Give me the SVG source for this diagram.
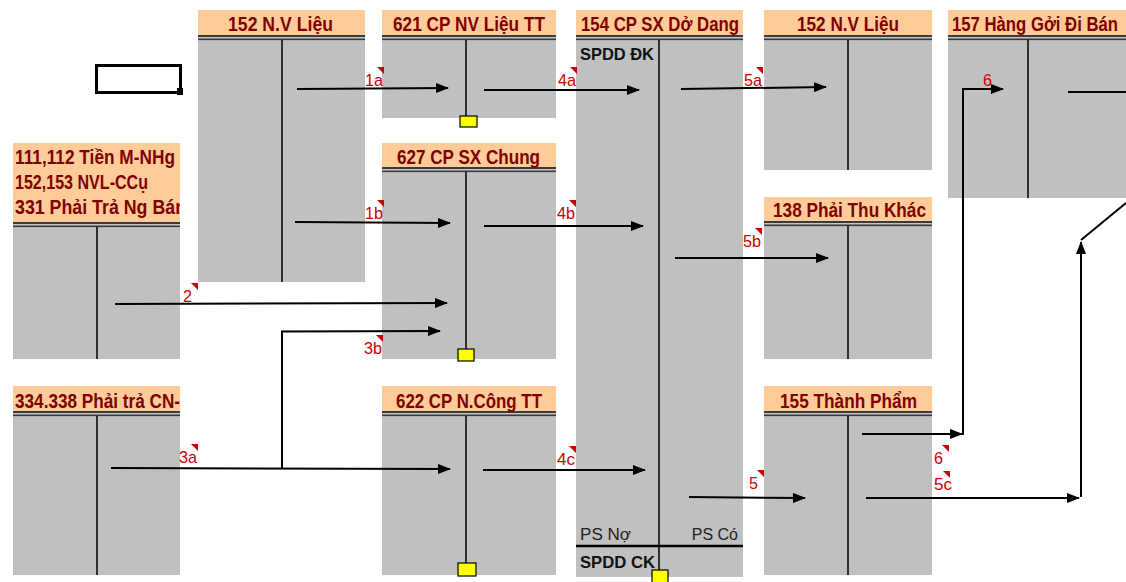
<svg xmlns="http://www.w3.org/2000/svg" width="1126" height="582" viewBox="0 0 1126 582">
<style>
.hdr{fill:#FFCC99}
.bd{fill:#C0C0C0}
.ht{font-family:"Liberation Sans",Arial,sans-serif;font-weight:bold;font-size:19.5px;fill:#800000}
.dv{stroke:#000;stroke-width:1.5}
.d1{stroke:#3a3a3a;stroke-width:2}
.d2{stroke:#8a8a8a;stroke-width:1}
.lbl{font-family:"Liberation Sans",Arial,sans-serif;font-size:17px;fill:#cc0000}
.tri{fill:#cc0000}
.cn{stroke:#000;stroke-width:2;fill:none}
.yb{fill:#FFFF00;stroke:#000;stroke-width:1.2}
.bt{font-family:"Liberation Sans",Arial,sans-serif;font-weight:bold;font-size:17px;fill:#111}
.nt{font-family:"Liberation Sans",Arial,sans-serif;font-size:16px;fill:#222}
</style>
<defs>
<marker id="ah" viewBox="0 0 13 10" refX="12" refY="5" markerWidth="13" markerHeight="10" markerUnits="userSpaceOnUse" orient="auto">
<path d="M0,0 L13,5 L0,10 z" fill="#000"/>
</marker>
<clipPath id="clipL"><rect x="13" y="0" width="167" height="582"/></clipPath>
</defs>
<rect width="1126" height="582" fill="#fff"/>

<g id="selbox">
<rect x="96.5" y="65.5" width="84" height="27" fill="none" stroke="#000" stroke-width="3"/>
<rect x="177" y="88" width="6" height="7" fill="#000"/>
</g>

<g id="n152a">
<rect class="hdr" x="198" y="10" width="167" height="26"/>
<line class="d1" x1="198" y1="36" x2="365" y2="36"/><line class="d2" x1="198" y1="38" x2="365" y2="38"/><line class="d1" x1="198" y1="39.5" x2="365" y2="39.5"/>
<rect class="bd" x="198" y="40.5" width="167" height="241.5"/>
<line class="dv" x1="282" y1="40" x2="282" y2="282"/>
<text class="ht" x="228" y="31" textLength="105" lengthAdjust="spacingAndGlyphs">152 N.V Liệu</text>
</g>

<g id="n621">
<rect class="hdr" x="382" y="10" width="174" height="26"/>
<line class="d1" x1="382" y1="36" x2="556" y2="36"/><line class="d2" x1="382" y1="38" x2="556" y2="38"/><line class="d1" x1="382" y1="39.5" x2="556" y2="39.5"/>
<rect class="bd" x="382" y="40.5" width="174" height="77.5"/>
<line class="dv" x1="466" y1="40" x2="466" y2="116"/>
<rect class="yb" x="460" y="116" width="17" height="11"/>
<text class="ht" x="393" y="31" textLength="152" lengthAdjust="spacingAndGlyphs">621 CP NV Liệu TT</text>
</g>

<g id="n154">
<rect class="hdr" x="576" y="10" width="167" height="26"/>
<line class="d1" x1="576" y1="36" x2="743" y2="36"/><line class="d2" x1="576" y1="38" x2="743" y2="38"/><line class="d1" x1="576" y1="39.5" x2="743" y2="39.5"/>
<rect class="bd" x="576" y="40.5" width="167" height="536.5"/>
<line class="dv" x1="659" y1="40" x2="659" y2="571"/>
<line x1="576" y1="546" x2="743" y2="546" stroke="#000" stroke-width="2.5"/>
<text class="ht" x="581" y="31" textLength="158" lengthAdjust="spacingAndGlyphs">154 CP SX Dở Dang</text>
<text class="bt" x="580" y="60" textLength="74" lengthAdjust="spacingAndGlyphs">SPDD ĐK</text>
<text class="nt" x="580" y="540" textLength="51" lengthAdjust="spacingAndGlyphs">PS Nợ</text>
<text class="nt" x="738" y="540" text-anchor="end">PS Có</text>
<text class="bt" x="580" y="568" textLength="75" lengthAdjust="spacingAndGlyphs">SPDD CK</text>
<rect class="yb" x="652" y="570" width="16" height="13"/>
</g>

<g id="n152b">
<rect class="hdr" x="764" y="10" width="168" height="26"/>
<line class="d1" x1="764" y1="36" x2="932" y2="36"/><line class="d2" x1="764" y1="38" x2="932" y2="38"/><line class="d1" x1="764" y1="39.5" x2="932" y2="39.5"/>
<rect class="bd" x="764" y="40.5" width="168" height="129.5"/>
<line class="dv" x1="848" y1="40" x2="848" y2="170"/>
<text class="ht" x="797" y="31" textLength="102" lengthAdjust="spacingAndGlyphs">152 N.V Liệu</text>
</g>

<g id="n157">
<rect class="hdr" x="948" y="10" width="178" height="26"/>
<line class="d1" x1="948" y1="36" x2="1126" y2="36"/><line class="d2" x1="948" y1="38" x2="1126" y2="38"/><line class="d1" x1="948" y1="39.5" x2="1126" y2="39.5"/>
<rect class="bd" x="948" y="40.5" width="178" height="157.5"/>
<line class="dv" x1="1028" y1="40" x2="1028" y2="198"/>
<text class="ht" transform="translate(952,31) scale(0.86,1)" x="0" y="0" textLength="193" lengthAdjust="spacingAndGlyphs">157 Hàng Gởi Đi Bán</text>
</g>

<g id="n111">
<rect class="hdr" x="13" y="143" width="167" height="80"/>
<line class="d1" x1="13" y1="223" x2="180" y2="223"/><line class="d2" x1="13" y1="225" x2="180" y2="225"/><line class="d1" x1="13" y1="226.5" x2="180" y2="226.5"/>
<rect class="bd" x="13" y="227.5" width="167" height="131.5"/>
<line class="dv" x1="97" y1="227" x2="97" y2="359"/>
<g clip-path="url(#clipL)">
<text class="ht" x="15" y="164" textLength="160" lengthAdjust="spacingAndGlyphs">111,112 Tiền M-NHg</text>
<text class="ht" x="15" y="189" textLength="133" lengthAdjust="spacingAndGlyphs">152,153 NVL-CCụ</text>
<text class="ht" x="15" y="214" textLength="171" lengthAdjust="spacingAndGlyphs">331 Phải Trả Ng Bán</text>
</g>
</g>

<g id="n627">
<rect class="hdr" x="382" y="143" width="174" height="25"/>
<line class="d1" x1="382" y1="168" x2="556" y2="168"/><line class="d2" x1="382" y1="170" x2="556" y2="170"/><line class="d1" x1="382" y1="171.5" x2="556" y2="171.5"/>
<rect class="bd" x="382" y="172.5" width="174" height="186.5"/>
<line class="dv" x1="466" y1="172" x2="466" y2="349"/>
<rect class="yb" x="458" y="349" width="16" height="12"/>
<text class="ht" x="397" y="164" textLength="143" lengthAdjust="spacingAndGlyphs">627 CP SX Chung</text>
</g>

<g id="n138">
<rect class="hdr" x="764" y="197" width="168" height="25"/>
<line class="d1" x1="764" y1="222" x2="932" y2="222"/><line class="d2" x1="764" y1="224" x2="932" y2="224"/><line class="d1" x1="764" y1="225.5" x2="932" y2="225.5"/>
<rect class="bd" x="764" y="226.5" width="168" height="132.5"/>
<line class="dv" x1="848" y1="226" x2="848" y2="359"/>
<text class="ht" x="773" y="217" textLength="153" lengthAdjust="spacingAndGlyphs">138 Phải Thu Khác</text>
</g>

<g id="n334">
<rect class="hdr" x="13" y="386" width="167" height="26"/>
<line class="d1" x1="13" y1="412" x2="180" y2="412"/><line class="d2" x1="13" y1="414" x2="180" y2="414"/><line class="d1" x1="13" y1="415.5" x2="180" y2="415.5"/>
<rect class="bd" x="13" y="416.5" width="167" height="158.5"/>
<line class="dv" x1="97" y1="416" x2="97" y2="575"/>
<g clip-path="url(#clipL)">
<text class="ht" x="15" y="408" textLength="165" lengthAdjust="spacingAndGlyphs">334.338 Phải trả CN-</text>
</g>
</g>

<g id="n622">
<rect class="hdr" x="382" y="386" width="174" height="26"/>
<line class="d1" x1="382" y1="412" x2="556" y2="412"/><line class="d2" x1="382" y1="414" x2="556" y2="414"/><line class="d1" x1="382" y1="415.5" x2="556" y2="415.5"/>
<rect class="bd" x="382" y="416.5" width="174" height="158.5"/>
<line class="dv" x1="466" y1="416" x2="466" y2="563"/>
<rect class="yb" x="458" y="563" width="18" height="13"/>
<text class="ht" x="396" y="408" textLength="146" lengthAdjust="spacingAndGlyphs">622 CP N.Công TT</text>
</g>

<g id="n155">
<rect class="hdr" x="764" y="386" width="168" height="26"/>
<line class="d1" x1="764" y1="412" x2="932" y2="412"/><line class="d2" x1="764" y1="414" x2="932" y2="414"/><line class="d1" x1="764" y1="415.5" x2="932" y2="415.5"/>
<rect class="bd" x="764" y="416.5" width="168" height="158.5"/>
<line class="dv" x1="848" y1="416" x2="848" y2="575"/>
<text class="ht" x="780" y="408" textLength="137" lengthAdjust="spacingAndGlyphs">155 Thành Phẩm</text>
</g>

<g id="connectors">
<line class="cn" x1="297" y1="89" x2="448" y2="88" marker-end="url(#ah)"/>
<line class="cn" x1="484" y1="90" x2="639" y2="90" marker-end="url(#ah)"/>
<line class="cn" x1="681" y1="89" x2="826" y2="87" marker-end="url(#ah)"/>
<line class="cn" x1="1068" y1="92" x2="1126" y2="92"/>
<line class="cn" x1="295" y1="222" x2="450" y2="223" marker-end="url(#ah)"/>
<line class="cn" x1="484" y1="226" x2="643" y2="226" marker-end="url(#ah)"/>
<line class="cn" x1="675" y1="258" x2="828" y2="258" marker-end="url(#ah)"/>
<line class="cn" x1="115" y1="304" x2="447" y2="303" marker-end="url(#ah)"/>
<polyline class="cn" points="282,468 282,331.5 440,331" marker-end="url(#ah)"/>
<line class="cn" x1="111" y1="468" x2="450" y2="469" marker-end="url(#ah)"/>
<line class="cn" x1="483" y1="470" x2="645" y2="470" marker-end="url(#ah)"/>
<line class="cn" x1="689" y1="497" x2="805" y2="498" marker-end="url(#ah)"/>
<line class="cn" x1="862" y1="434" x2="962" y2="434" marker-end="url(#ah)"/>
<polyline class="cn" points="963,435 963,89 1003,89" marker-end="url(#ah)"/>
<line class="cn" x1="866" y1="498" x2="1079" y2="498" marker-end="url(#ah)"/>
<line class="cn" x1="1081" y1="497" x2="1081" y2="242" marker-end="url(#ah)"/>
<line class="cn" x1="1081" y1="240" x2="1126" y2="203"/>
</g>

<g id="labels">
<text class="lbl" x="365" y="86" textLength="18" lengthAdjust="spacingAndGlyphs">1a</text><path class="tri" d="M377,67 L384,67 L384,74 z"/>
<text class="lbl" x="558" y="86" textLength="18" lengthAdjust="spacingAndGlyphs">4a</text><path class="tri" d="M570,67 L577,67 L577,74 z"/>
<text class="lbl" x="744" y="86" textLength="18" lengthAdjust="spacingAndGlyphs">5a</text><path class="tri" d="M756,67 L763,67 L763,74 z"/>
<text class="lbl" x="983" y="86" textLength="9" lengthAdjust="spacingAndGlyphs">6</text>
<text class="lbl" x="365" y="219" textLength="18" lengthAdjust="spacingAndGlyphs">1b</text><path class="tri" d="M377,200 L384,200 L384,207 z"/>
<text class="lbl" x="557" y="219" textLength="18" lengthAdjust="spacingAndGlyphs">4b</text><path class="tri" d="M569,200 L576,200 L576,207 z"/>
<text class="lbl" x="743" y="247" textLength="18" lengthAdjust="spacingAndGlyphs">5b</text><path class="tri" d="M755,228 L762,228 L762,235 z"/>
<text class="lbl" x="183" y="302" textLength="9" lengthAdjust="spacingAndGlyphs">2</text><path class="tri" d="M191,283 L198,283 L198,290 z"/>
<text class="lbl" x="364" y="354" textLength="18" lengthAdjust="spacingAndGlyphs">3b</text><path class="tri" d="M376,335 L383,335 L383,342 z"/>
<text class="lbl" x="179" y="463" textLength="18" lengthAdjust="spacingAndGlyphs">3a</text><path class="tri" d="M191,444 L198,444 L198,451 z"/>
<text class="lbl" x="557" y="465" textLength="18" lengthAdjust="spacingAndGlyphs">4c</text><path class="tri" d="M569,446 L576,446 L576,453 z"/>
<text class="lbl" x="749" y="489" textLength="9" lengthAdjust="spacingAndGlyphs">5</text><path class="tri" d="M757,470 L764,470 L764,477 z"/>
<text class="lbl" x="934" y="464" textLength="9" lengthAdjust="spacingAndGlyphs">6</text><path class="tri" d="M942,445 L949,445 L949,452 z"/>
<text class="lbl" x="934" y="490" textLength="18" lengthAdjust="spacingAndGlyphs">5c</text><path class="tri" d="M943,471 L950,471 L950,478 z"/>
</g>
</svg>
